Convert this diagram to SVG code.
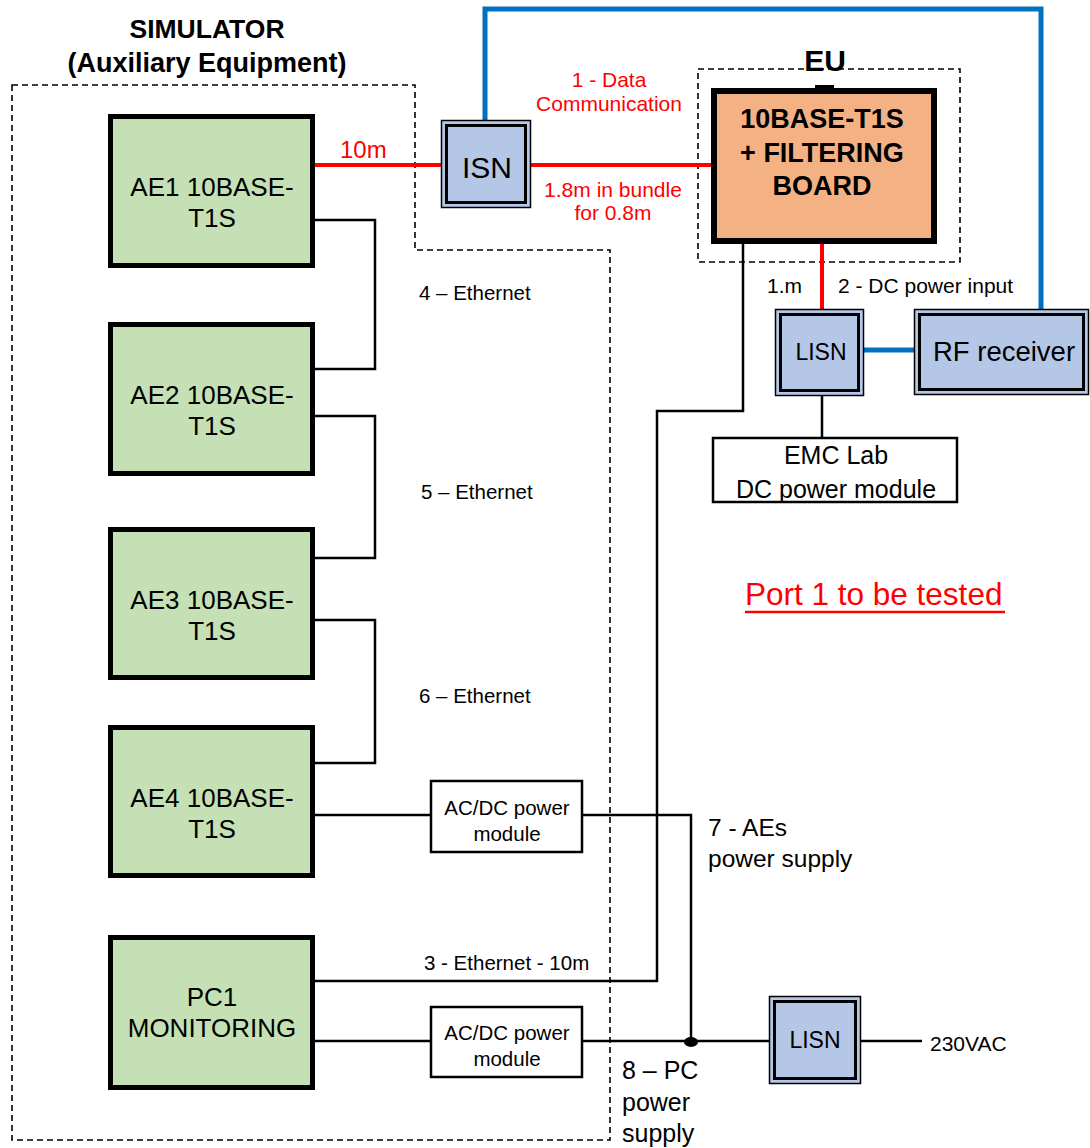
<svg xmlns="http://www.w3.org/2000/svg" width="1090" height="1148" viewBox="0 0 1090 1148">
<style>
text{font-family:"Liberation Sans",Arial,sans-serif;fill:#000}
.b{font-weight:bold}
.red{fill:#ff0000}
.c{text-anchor:middle}
.ae{fill:#c5e0b4;stroke:#000;stroke-width:5}
.dash{fill:none;stroke:#000;stroke-width:1.6;stroke-dasharray:6,4}
.w{fill:none;stroke:#000;stroke-width:2.5}
.rl{fill:none;stroke:#ff0000;stroke-width:4}
.bl{fill:none;stroke:#0070c0;stroke-width:5}
.box{fill:#fff;stroke:#000;stroke-width:2.5}
.nout{fill:#b4c7e7;stroke:#000;stroke-width:1.5}
.nin{fill:none;stroke:#000;stroke-width:3}
</style>
<rect width="1090" height="1148" fill="#fff"/>
<g id="simulator-frame">
<path class="dash" d="M12,85 H415 V250 H610 V1140 H12 Z"/>
<text class="b c" x="207" y="38" font-size="26.5">SIMULATOR</text>
<text class="b c" x="207" y="72" font-size="27">(Auxiliary Equipment)</text>
</g>
<g id="eu-frame">
<rect class="dash" x="698" y="69" width="262" height="193"/>
<text class="b c" x="825" y="71" font-size="30">EU</text>
</g>
<g id="connectors">
<path class="w" d="M315,220 H375 V369 H315"/>
<path class="w" d="M315,416 H375 V558 H315"/>
<path class="w" d="M315,620 H375 V763 H315"/>
<path class="w" d="M315,981 H657 V411 H743 V244"/>
<path class="w" d="M315,815 H431"/>
<path class="w" d="M582,815 H691 V1042"/>
<path class="w" d="M315,1041 H431"/>
<path class="w" d="M582,1041 H770"/>
<path class="w" d="M861,1041 H922"/>
<path class="w" d="M822,396 V438"/>
<ellipse cx="691" cy="1042" rx="7" ry="5" fill="#000"/>
<path class="rl" d="M315,165 H441"/>
<path class="rl" d="M531,165 H711"/>
<path class="rl" d="M822,244 V309"/>
<path class="bl" d="M485,122 V9 H1041 V310"/>
<path class="bl" d="M864,350 H914"/>
<text class="red" x="340" y="158" font-size="24">10m</text>
<text class="red c" x="609" y="87" font-size="21">1 - Data</text>
<text class="red c" x="609" y="111" font-size="21">Communication</text>
<text class="red c" x="613" y="197" font-size="21">1.8m in bundle</text>
<text class="red c" x="613" y="220" font-size="21">for 0.8m</text>
<text x="419" y="300" font-size="20.5">4 – Ethernet</text>
<text x="421" y="499" font-size="20.5">5 – Ethernet</text>
<text x="419" y="703" font-size="20.5">6 – Ethernet</text>
<text x="767" y="293" font-size="21">1.m</text>
<text x="838" y="293" font-size="21">2 - DC power input</text>
<text x="424" y="970" font-size="20.5">3 - Ethernet - 10m</text>
<text x="708" y="836" font-size="24.5">7 - AEs</text>
<text x="708" y="867" font-size="24.5">power supply</text>
<text x="622" y="1079" font-size="25">8 – PC</text>
<text x="622" y="1111" font-size="25">power</text>
<text x="622" y="1142" font-size="25">supply</text>
<text x="930" y="1051" font-size="21">230VAC</text>
</g>
<g id="ae1">
<rect class="ae" x="110.5" y="116.5" width="202" height="149"/>
<text class="c" x="212" y="196" font-size="26">AE1 10BASE-</text>
<text class="c" x="212" y="227" font-size="26">T1S</text>
</g>
<g id="ae2">
<rect class="ae" x="110.5" y="324.5" width="202" height="149"/>
<text class="c" x="212" y="404" font-size="26">AE2 10BASE-</text>
<text class="c" x="212" y="435" font-size="26">T1S</text>
</g>
<g id="ae3">
<rect class="ae" x="110.5" y="529.5" width="202" height="148"/>
<text class="c" x="212" y="609" font-size="26">AE3 10BASE-</text>
<text class="c" x="212" y="640" font-size="26">T1S</text>
</g>
<g id="ae4">
<rect class="ae" x="110.5" y="727.5" width="202" height="148"/>
<text class="c" x="212" y="807" font-size="26">AE4 10BASE-</text>
<text class="c" x="212" y="838" font-size="26">T1S</text>
</g>
<g id="pc1">
<rect class="ae" x="110.5" y="937.5" width="202" height="150"/>
<text class="c" x="212" y="1006" font-size="26">PC1</text>
<text class="c" x="212" y="1037" font-size="26">MONITORING</text>
</g>
<g id="isn">
<rect class="nout" x="441.5" y="120.5" width="89" height="87"/>
<rect class="nin" x="446.5" y="125.5" width="79" height="77"/>
<text class="c" x="487" y="178" font-size="30">ISN</text>
</g>
<g id="eu-board">
<rect x="815" y="85" width="19" height="5" fill="#000"/>
<rect x="714" y="91" width="220" height="150" fill="#f4b183" stroke="#000" stroke-width="6"/>
<text class="b c" x="822" y="128" font-size="27">10BASE-T1S</text>
<text class="b c" x="822" y="162" font-size="27">+ FILTERING</text>
<text class="b c" x="822" y="195" font-size="27">BOARD</text>
</g>
<g id="lisn-dc">
<rect class="nout" x="775.5" y="309.5" width="88" height="86"/>
<rect class="nin" x="780.5" y="314.5" width="78" height="76"/>
<text class="c" x="821" y="360" font-size="23">LISN</text>
</g>
<g id="rf-receiver">
<rect class="nout" x="914.5" y="309.5" width="174" height="85"/>
<rect class="nin" x="919.5" y="314.5" width="164" height="75"/>
<text class="c" x="1004" y="361" font-size="27.5">RF receiver</text>
</g>
<g id="emc-lab">
<rect class="box" x="713" y="438" width="244" height="64"/>
<text class="c" x="836" y="464" font-size="25">EMC Lab</text>
<text class="c" x="836" y="498" font-size="25">DC power module</text>
</g>
<g id="acdc1">
<rect class="box" x="431" y="781" width="151" height="71"/>
<text class="c" x="507" y="815" font-size="20.5">AC/DC power</text>
<text class="c" x="507" y="841" font-size="20.5">module</text>
</g>
<g id="acdc2">
<rect class="box" x="431" y="1007" width="151" height="70"/>
<text class="c" x="507" y="1040" font-size="20.5">AC/DC power</text>
<text class="c" x="507" y="1066" font-size="20.5">module</text>
</g>
<g id="lisn-ac">
<rect class="nout" x="769.5" y="996.5" width="91" height="87"/>
<rect class="nin" x="774.5" y="1001.5" width="81" height="77"/>
<text class="c" x="815" y="1048" font-size="23">LISN</text>
</g>
<g id="port-note">
<text class="red" x="745" y="605" font-size="31.5">Port 1 to be tested</text>
<line x1="745" y1="612" x2="1005" y2="612" stroke="#ff0000" stroke-width="2.5"/>
</g>
</svg>
